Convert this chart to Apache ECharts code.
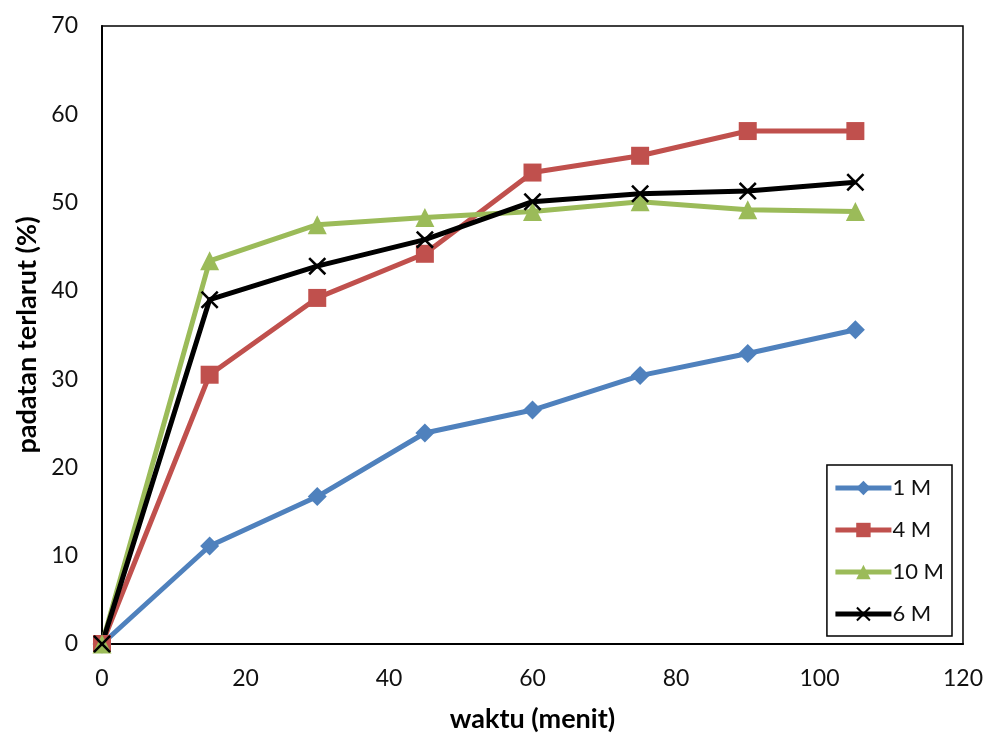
<!DOCTYPE html>
<html>
<head>
<meta charset="utf-8">
<script src="https://cdn.jsdelivr.net/npm/echarts@6/dist/echarts.min.js"></script>
<style>html,body{margin:0;padding:0;background:#fff;}#c{width:986px;height:738px;}</style>
</head>
<body>
<div id="c"></div>
<script>
const waktu = [0, 15, 30, 45, 60, 75, 90, 105];
const m1 = [0, 11.1, 16.7, 23.9, 26.5, 30.4, 32.9, 35.6];
const m4 = [0, 30.5, 39.2, 44.2, 53.4, 55.3, 58.1, 58.1];
const m10 = [0, 43.4, 47.5, 48.3, 49.0, 50.1, 49.2, 49.0];
const m6 = [0, 39.0, 42.8, 45.8, 50.1, 51.0, 51.3, 52.3];
const seriesNames = ['1 M', '4 M', '10 M', '6 M'];
const xTitle = 'waktu (menit)';
const yTitle = 'padatan terlarut (%)';

const pairs = v => waktu.map((t, i) => [t, v[i]]);
const FONT = 'Lato, "Open Sans", sans-serif';
const cross = 'path://M0,1L1,0L5,4L9,0L10,1L6,5L10,9L9,10L5,6L1,10L0,9L4,5Z';

const chart = echarts.init(document.getElementById('c'), null, {renderer: 'canvas'});
chart.setOption({
  animation: false,
  backgroundColor: '#fff',
  textStyle: {fontFamily: FONT},
  grid: {left: 102, right: 22, top: 26, bottom: 93, show: true, borderColor: '#000', borderWidth: 1.5, containLabel: false},
  legend: {
    orient: 'vertical', right: 34, top: 465,
    backgroundColor: '#fff', borderColor: '#000', borderWidth: 1.5,
    padding: [12, 8, 11, 6], itemGap: 20, itemWidth: 56, itemHeight: 18,
    lineStyle: {width: 5},
    textStyle: {fontFamily: FONT, fontSize: 22, color: '#111', padding: [0, 0, 0, -4]},
    data: seriesNames
  },
  xAxis: {
    type: 'value', min: 0, max: 120, interval: 20,
    name: xTitle, nameLocation: 'middle', nameGap: 62,
    nameTextStyle: {fontFamily: FONT, fontSize: 27, fontWeight: 'bold', color: '#000'},
    axisLine: {show: true, lineStyle: {color: '#000', width: 2}},
    axisTick: {show: false}, splitLine: {show: false},
    axisLabel: {fontFamily: FONT, fontSize: 23, color: '#111', margin: 23}
  },
  yAxis: {
    type: 'value', min: 0, max: 70, interval: 10,
    name: yTitle, nameLocation: 'middle', nameGap: 56,
    nameTextStyle: {fontFamily: FONT, fontSize: 27, fontWeight: 'bold', color: '#000'},
    axisLine: {show: true, lineStyle: {color: '#000', width: 2}},
    axisTick: {show: false}, splitLine: {show: false},
    axisLabel: {fontFamily: FONT, fontSize: 23, color: '#111', margin: 24}
  },
  series: [
    {name: seriesNames[0], type: 'line', data: pairs(m1), symbol: 'diamond', symbolSize: 19,
     lineStyle: {color: '#4F81BD', width: 5}, itemStyle: {color: '#4F81BD'}},
    {name: seriesNames[1], type: 'line', data: pairs(m4), symbol: 'rect', symbolSize: 18,
     lineStyle: {color: '#C0504D', width: 5}, itemStyle: {color: '#C0504D'}},
    {name: seriesNames[2], type: 'line', data: pairs(m10), symbol: 'triangle', symbolSize: 19,
     lineStyle: {color: '#9BBB59', width: 5}, itemStyle: {color: '#9BBB59'}},
    {name: seriesNames[3], type: 'line', data: pairs(m6), symbol: cross, symbolSize: 18,
     lineStyle: {color: '#000', width: 5}, itemStyle: {color: '#000'}}
  ]
});
</script>
</body>
</html>
